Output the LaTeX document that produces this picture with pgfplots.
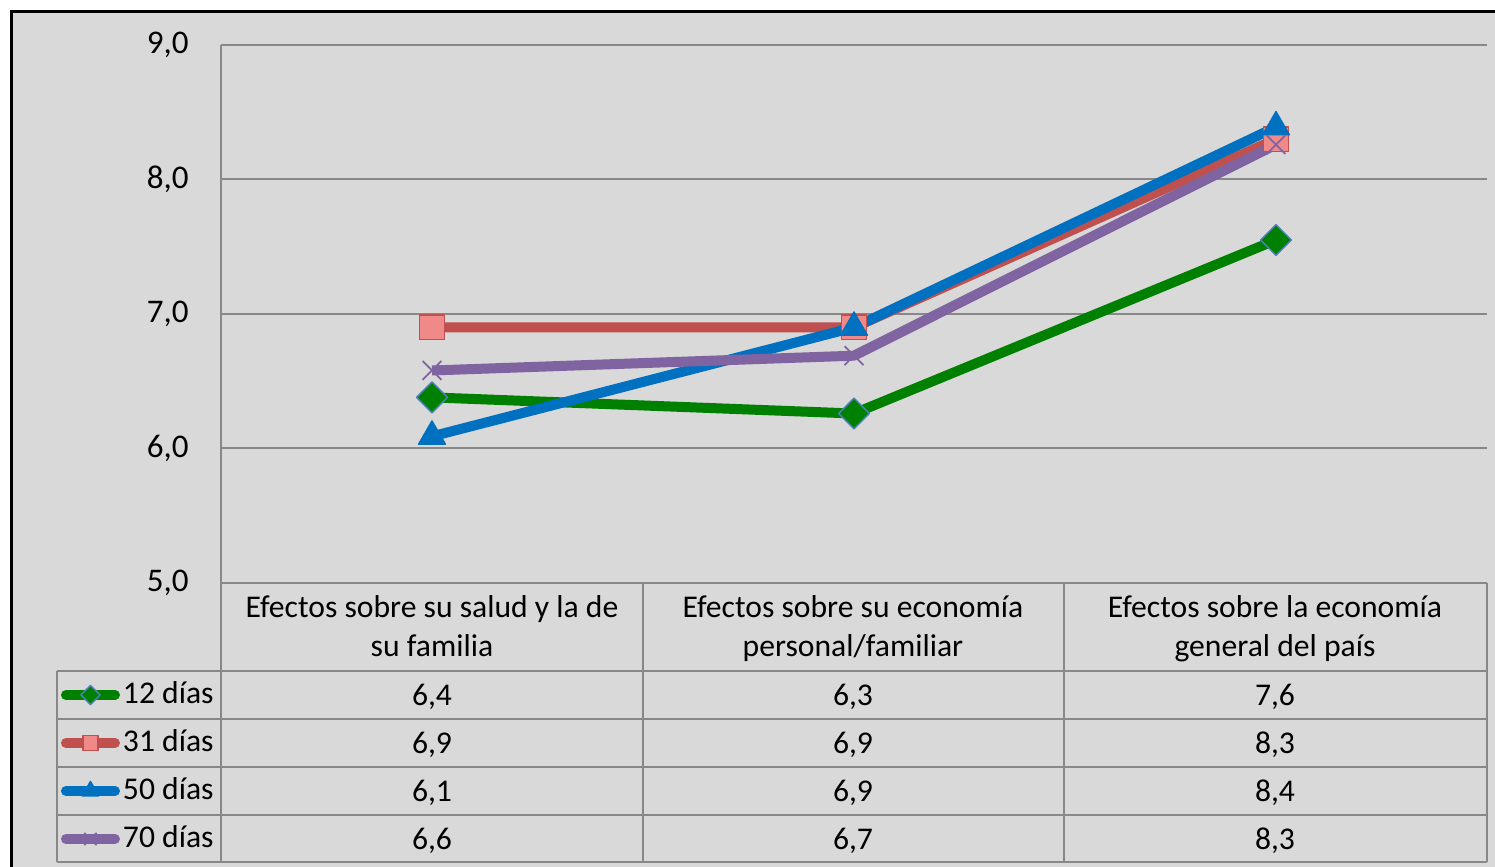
\documentclass[border=0pt]{standalone}
\usepackage{fontspec}
\setmainfont{Carlito}
\usepackage{pgfplots}
\pgfplotsset{compat=1.18}

\definecolor{bg}{HTML}{D9D9D9}
\definecolor{gridc}{HTML}{888888}
\definecolor{c12}{HTML}{008000}
\definecolor{c12edge}{HTML}{4F81BD}
\definecolor{c31}{HTML}{C0504D}
\definecolor{c31fill}{HTML}{F08A88}
\definecolor{c50}{HTML}{0070C0}
\definecolor{c70}{HTML}{8064A2}

\begin{document}
\begin{tikzpicture}[font=\fontsize{9}{11}\selectfont]
% page and grey chart area (origin = bottom left of the plot area)
\path[use as bounding box] (-22.1mm,-28.4mm) rectangle (127.4mm,58.3mm);
\fill[white] (-22.1mm,-28.4mm) rectangle (127.4mm,58.3mm);
\fill[bg] (-20.9mm,-28.4mm) rectangle (127.4mm,57.1mm);
\draw[black, line width=0.3mm] (-20.9mm,-28.4mm) -- (-20.9mm,57.1mm) -- (127.4mm,57.1mm);

\begin{axis}[
    at={(0,0)}, anchor=south west,
    scale only axis,
    width=126.6mm, height=53.8mm,
    xmin=-0.5, xmax=2.5,
    ymin=5, ymax=9,
    ytick={5,6,7,8,9},
    xtick=\empty,
    major tick length=0pt,
    axis line style={draw=none},
    ymajorgrids,
    grid style={gridc, line width=0.2mm},
    /pgf/number format/fixed,
    /pgf/number format/fixed zerofill,
    /pgf/number format/precision=1,
    /pgf/number format/use comma,
    /pgf/number format/assume math mode=true,
    yticklabel style={xshift=-2mm, font=\fontsize{9.4}{11}\selectfont},
    clip=false,
    legend cell align=left,
    legend style={
        at={(-0.1264,-0.1636)}, anchor=north west,
        draw=none, fill=none, inner sep=0pt, outer sep=0pt,
        row sep=0pt, column sep=0.3mm,
        nodes={inner sep=0pt, minimum height=4.8mm},
    },
    legend image code/.code={
        \draw[#1, line cap=round, mark repeat=2, mark phase=2,
              every mark/.append style={scale=0.62}]
            plot coordinates {(0.5mm,0mm) (2.95mm,0mm) (5.4mm,0mm)};
    },
]
% 12 dias
\addplot[c12, line width=1mm, line join=round,
    mark=square*, mark size=3.1pt,
    mark options={rotate=45, fill=c12, draw=c12edge, line width=0.4pt}]
    coordinates {(0,6.38) (1,6.26) (2,7.55)};
% 31 dias
\addplot[c31, line width=1mm, line join=round,
    mark=square*, mark size=3.5pt,
    mark options={fill=c31fill, draw=c31, line width=0.4pt}]
    coordinates {(0,6.90) (1,6.90) (2,8.30)};
% 50 dias
\addplot[c50, line width=1mm, line join=round,
    mark=triangle*, mark size=4.4pt,
    mark options={fill=c50, draw=c50, line width=0.4pt}]
    coordinates {(0,6.09) (1,6.90) (2,8.39)};
% 70 dias
\addplot[c70, line width=1mm, line join=round,
    mark=x, mark size=3.8pt,
    mark options={draw=c70, line width=0.5pt}]
    coordinates {(0,6.58) (1,6.69) (2,8.26)};
\legend{12 días, 31 días, 50 días, 70 días}
\end{axis}

% data table lines
\begin{scope}[gridc, line width=0.2mm]
\draw (0,53.8mm) -- (0,-27.9mm);
\draw (42.2mm,0) -- (42.2mm,-27.9mm);
\draw (84.3mm,0) -- (84.3mm,-27.9mm);
\draw (126.6mm,0) -- (126.6mm,-27.9mm);
\draw (-16.4mm,-8.8mm) -- (-16.4mm,-27.9mm);
\foreach \yy in {-8.8,-13.6,-18.4,-23.2,-27.9}
    \draw (-16.4mm,\yy mm) -- (126.6mm,\yy mm);
\end{scope}

% header
\node[anchor=mid] at (21.1mm,-2.6mm) {Efectos sobre su salud y la de};
\node[anchor=mid] at (21.1mm,-6.5mm) {su familia};
\node[anchor=mid] at (63.2mm,-2.6mm) {Efectos sobre su economía};
\node[anchor=mid] at (63.2mm,-6.5mm) {personal/familiar};
\node[anchor=mid] at (105.4mm,-2.6mm) {Efectos sobre la economía};
\node[anchor=mid] at (105.4mm,-6.5mm) {general del país};

% values
\node[anchor=mid] at (21.1mm,-11.4mm) {6,4};
\node[anchor=mid] at (63.2mm,-11.4mm) {6,3};
\node[anchor=mid] at (105.4mm,-11.4mm) {7,6};
\node[anchor=mid] at (21.1mm,-16.2mm) {6,9};
\node[anchor=mid] at (63.2mm,-16.2mm) {6,9};
\node[anchor=mid] at (105.4mm,-16.2mm) {8,3};
\node[anchor=mid] at (21.1mm,-21.0mm) {6,1};
\node[anchor=mid] at (63.2mm,-21.0mm) {6,9};
\node[anchor=mid] at (105.4mm,-21.0mm) {8,4};
\node[anchor=mid] at (21.1mm,-25.8mm) {6,6};
\node[anchor=mid] at (63.2mm,-25.8mm) {6,7};
\node[anchor=mid] at (105.4mm,-25.8mm) {8,3};
\end{tikzpicture}
\end{document}
